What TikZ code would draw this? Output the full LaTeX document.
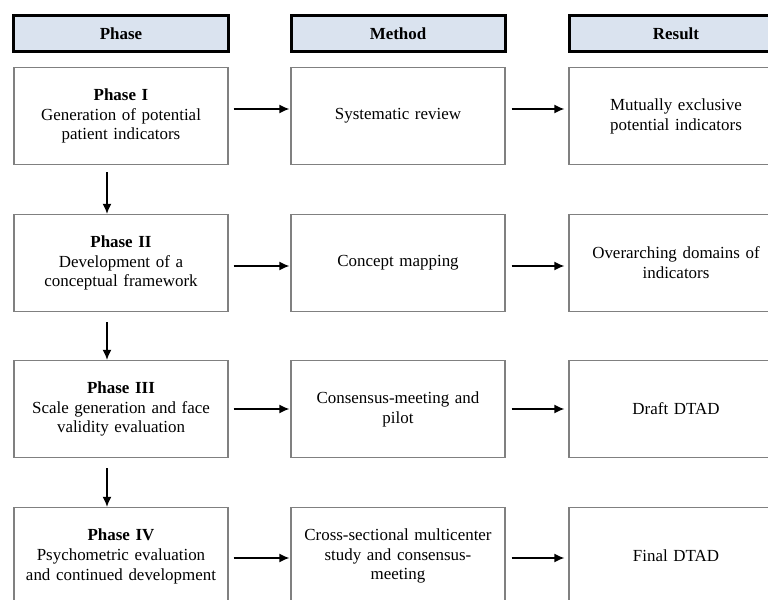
\documentclass[tikz,border=0pt]{standalone}
\usepackage{fontspec}
\setmainfont{Liberation Serif}
\definecolor{headblue}{RGB}{218,227,239}
\definecolor{boxgray}{RGB}{128,128,128}
\usetikzlibrary{arrows.meta}
\tikzstyle{head} = [
 rectangle,
 draw=black,
 line width=3bp,
 fill=headblue,
 minimum width=214bp,
 minimum height=36bp,
 font=\fontsize{17}{20}\selectfont\bfseries,
 align = center
]
\tikzstyle{step box} = [
 rectangle,
 draw=boxgray,
 line width=1.3bp,
 fill=white,
 minimum width=214bp,
 minimum height=97bp,
 text width=204bp,
 font=\fontsize{17}{20}\selectfont,
 align = center
]
\tikzstyle{flow} = [
 -{Latex[length=10bp,width=9bp]},
 line width=1.4bp
]

\begin{document}
\begin{tikzpicture}[x=1bp,y=-1bp]
  \useasboundingbox (0,0) rectangle (768,600);
  \clip (0,0) rectangle (768,600);
  % column heads
  \node [head] (phaseHead) at (121,34) {Phase};
  \node [head] (methodHead) at (398,34) {Method};
  \node [head] (resultHead) at (676,34) {Result};
  % phase I
  \node [step box] (phase1) at (121,116) {\textbf{Phase I}\\Generation of potential\\patient indicators};
  \node [step box] (method1) at (398,116) {Systematic review};
  \node [step box] (result1) at (676,116) {Mutually exclusive\\potential indicators};
  % phase II
  \node [step box] (phase2) at (121,263) {\textbf{Phase II}\\Development of a\\conceptual framework};
  \node [step box] (method2) at (398,263) {Concept mapping};
  \node [step box] (result2) at (676,263) {Overarching domains of\\indicators};
  % phase III
  \node [step box] (phase3) at (121,409) {\textbf{Phase III}\\Scale generation and face\\validity evaluation};
  \node [step box] (method3) at (398,409) {Consensus-meeting and\\pilot};
  \node [step box] (result3) at (676,409) {Draft DTAD};
  % phase IV
  \node [step box] (phase4) at (121,556) {\textbf{Phase IV}\\Psychometric evaluation\\and continued development};
  \node [step box] (method4) at (398,556) {Cross-sectional multicenter\\study and consensus-\\meeting};
  \node [step box] (result4) at (676,556) {Final DTAD};
  % arrows
  \draw [flow] ([xshift=5bp,yshift=7bp]phase1.east) -- ([xshift=-1bp,yshift=7bp]method1.west);
  \draw [flow] ([xshift=6bp,yshift=7bp]method1.east) -- ([xshift=-4bp,yshift=7bp]result1.west);
  \draw [flow] ([xshift=5bp,yshift=-3bp]phase2.east) -- ([xshift=-1bp,yshift=-3bp]method2.west);
  \draw [flow] ([xshift=6bp,yshift=-3bp]method2.east) -- ([xshift=-4bp,yshift=-3bp]result2.west);
  \draw [flow] ([xshift=5bp]phase3.east) -- ([xshift=-1bp]method3.west);
  \draw [flow] ([xshift=6bp]method3.east) -- ([xshift=-4bp]result3.west);
  \draw [flow] ([xshift=5bp,yshift=-2bp]phase4.east) -- ([xshift=-1bp,yshift=-2bp]method4.west);
  \draw [flow] ([xshift=6bp,yshift=-2bp]method4.east) -- ([xshift=-4bp,yshift=-2bp]result4.west);
  \draw [flow] ([xshift=-14bp,yshift=-7bp]phase1.south) -- ([xshift=-14bp]phase2.north);
  \draw [flow] ([xshift=-14bp,yshift=-10bp]phase2.south) -- ([xshift=-14bp]phase3.north);
  \draw [flow] ([xshift=-14bp,yshift=-10bp]phase3.south) -- ([xshift=-14bp]phase4.north);
\end{tikzpicture}
\end{document}
